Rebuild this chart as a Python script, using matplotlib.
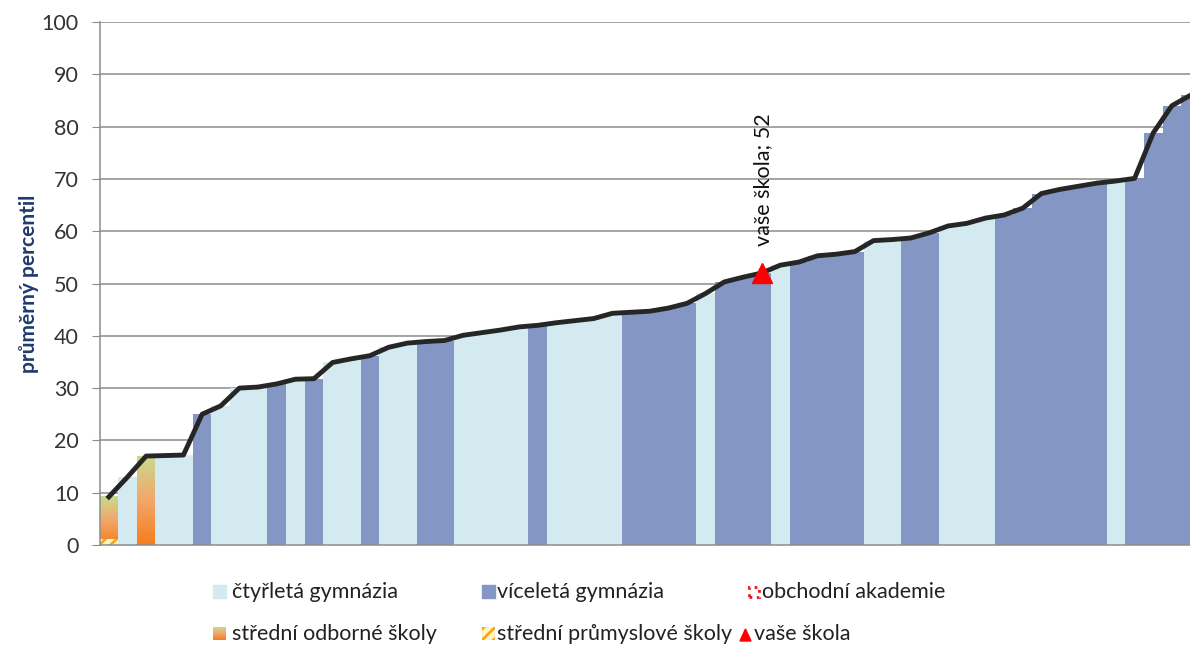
import numpy as np
import matplotlib
matplotlib.use('Agg')
import matplotlib.pyplot as plt
from matplotlib.patches import Rectangle, Polygon
from matplotlib.colors import LinearSegmentedColormap

plt.rcParams['font.family'] = ['Lato', 'DejaVu Sans']
plt.rcParams['hatch.linewidth'] = 2.0

# average percentile of each school, sorted
values = [9.2, 13.0, 17.0, 17.1, 17.2, 25.0, 26.6, 30.0, 30.2, 30.8,
          31.7, 31.8, 34.9, 35.6, 36.2, 37.8, 38.6, 38.9, 39.1, 40.1,
          40.6, 41.1, 41.7, 42.0, 42.5, 42.9, 43.3, 44.3, 44.5, 44.7,
          45.3, 46.2, 48.1, 50.3, 51.2, 52.0, 53.5, 54.1, 55.3, 55.6,
          56.1, 58.2, 58.4, 58.7, 59.7, 61.0, 61.5, 62.5, 63.1, 64.4,
          67.2, 68.0, 68.6, 69.2, 69.6, 70.1, 78.8, 84.0, 86.0]
# school type: C = čtyřletá, V = víceletá, O = odborná
types = list('OCOCCVCCCVCVCCVCCVVCCCCVCCCCVVVVCVVVCVVVVCCVVCCCVVVVVVCVVVV')
prumyslove = {0: 1.2}   # part of the first bar
own_index = 35
own_value = 52

legend_labels = ['čtyřletá gymnázia', 'víceletá gymnázia', 'obchodní akademie',
                 'střední odborné školy', 'střední průmyslové školy', 'vaše škola']

light = '#D3EAF0'
dark = '#8496C3'
grad = LinearSegmentedColormap.from_list('odb', ['#F47E1E', '#F2A66A', '#C9DB8E'])

fig = plt.figure(figsize=(11.9, 6.45), dpi=100)
ax = fig.add_axes([99.5 / 1190, 1 - 545 / 645, 1 - 99.5 / 1190, (545 - 22) / 645])

x = np.arange(len(values))
for i, (v, t) in enumerate(zip(values, types)):
    if t == 'O':
        g = np.linspace(0, 1, 100).reshape(-1, 1)
        ax.imshow(g, cmap=grad, origin='lower', extent=(i - 0.5, i + 0.5, 0, v),
                  aspect='auto', zorder=2)
    else:
        ax.bar(i, v, width=1.0, color=light if t == 'C' else dark, zorder=2, linewidth=0)

for i, h in prumyslove.items():
    ax.bar(i, h, width=1.0, color='#FFF3C0', edgecolor='#F5A81C', hatch='///',
           linewidth=0, zorder=2.5)

ax.plot(x, values, color='#262626', lw=3.5, solid_joinstyle='round', zorder=3)
ax.plot(own_index, own_value, marker='^', color='#FF0000', markersize=15, zorder=4, ls='none')
ax.text(own_index + 0.1, 57.2, 'vaše škola; %d' % own_value, rotation=90,
        ha='center', va='bottom', fontsize=15.5, color='#111111')

ax.set_xlim(-0.5, 57.97)
ax.set_ylim(0, 100)
ax.set_yticks(range(0, 101, 10))
ax.set_xticks([])
ax.yaxis.grid(True, color='#8C8C8C', lw=1.1)
ax.set_axisbelow(True)
for s in ['top', 'right']:
    ax.spines[s].set_visible(False)
for s in ['left', 'bottom']:
    ax.spines[s].set_color('#8C8C8C')
    ax.spines[s].set_linewidth(1.1)
ax.tick_params(axis='y', length=6, color='#8C8C8C', labelsize=15.5, labelcolor='#333333', pad=9)
ax.set_ylabel('průměrný percentil', fontsize=15, color='#1F3A6E', fontweight='bold', labelpad=2)

# legend drawn by hand below the plot
W, H = 1190, 645
def fx(px):
    return px / W
def fy(py):
    return 1 - py / H

sq = 13
rows = [592, 634]
fs = 15.5

fig.patches.append(Rectangle((fx(213), fy(rows[0] + 6)), sq / W, sq / H, color=light,
                             transform=fig.transFigure))
fig.text(fx(232), fy(rows[0]), legend_labels[0], fontsize=fs, va='center', color='#222222')
fig.patches.append(Rectangle((fx(482), fy(rows[0] + 6)), sq / W, sq / H, color=dark,
                             transform=fig.transFigure))
fig.text(fx(497), fy(rows[0]), legend_labels[1], fontsize=fs, va='center', color='#222222')
fig.patches.append(Rectangle((fx(749), fy(rows[0] + 5)), 10 / W, 10 / H, fill=False,
                             edgecolor='#E8141B', lw=2, ls=':', transform=fig.transFigure))
fig.text(fx(762), fy(rows[0]), legend_labels[2], fontsize=fs, va='center', color='#222222')

gax = fig.add_axes([fx(213), fy(rows[1] + 6), sq / W, sq / H])
gax.imshow(np.linspace(0, 1, 50).reshape(-1, 1), cmap=grad, origin='lower', aspect='auto')
gax.axis('off')
fig.text(fx(232), fy(rows[1]), legend_labels[3], fontsize=fs, va='center', color='#222222')
fig.patches.append(Rectangle((fx(482), fy(rows[1] + 6)), sq / W, sq / H, facecolor='#FFF3C0',
                             edgecolor='#F5A81C', hatch='///', lw=0, transform=fig.transFigure))
fig.text(fx(497), fy(rows[1]), legend_labels[4], fontsize=fs, va='center', color='#222222')
fig.patches.append(Polygon([(fx(740), fy(rows[1] + 7)), (fx(751), fy(rows[1] + 7)),
                            (fx(745.5), fy(rows[1] - 5))], color='#FF0000',
                           transform=fig.transFigure))
fig.text(fx(754), fy(rows[1]), legend_labels[5], fontsize=fs, va='center', color='#222222')

fig.savefig('out.png', dpi=100)
